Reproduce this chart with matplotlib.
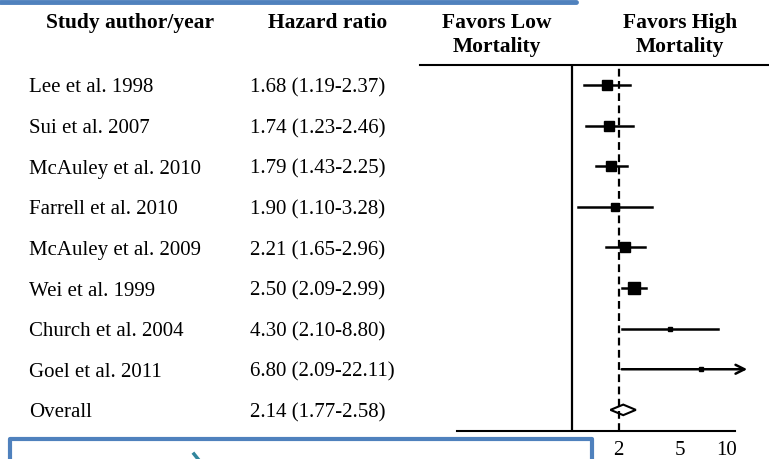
import numpy as np
import matplotlib.pyplot as plt
import matplotlib.transforms as mtransforms
from matplotlib.lines import Line2D
from matplotlib.patches import Polygon

# Données
etudes = ["Lee et al. 1998", "Sui et al. 2007", "McAuley et al. 2010", "Farrell et al. 2010",
          "McAuley et al. 2009", "Wei et al. 1999", "Church et al. 2004", "Goel et al. 2011"]
hr = [1.68, 1.74, 1.79, 1.90, 2.21, 2.50, 4.30, 6.80]
ic_bas = [1.19, 1.23, 1.43, 1.10, 1.65, 2.09, 2.10, 2.09]
ic_haut = [2.37, 2.46, 2.25, 3.28, 2.96, 2.99, 8.80, 22.11]
poids = [13.5, 13.0, 16.0, 7.5, 13.5, 19.0, 2.5, 3.0]  # poids relatifs (taille des carrés)
global_label = "Overall"
global_hr, global_bas, global_haut = 2.14, 1.77, 2.58
ticks = [2, 5, 10]

W, H = 769, 459
fig = plt.figure(figsize=(W / 100, H / 100), dpi=100)
plt.rcParams['font.family'] = ['Liberation Serif', 'DejaVu Serif']

# axe du forest plot (en pixels: x 420-769, y 65-431)
ax = fig.add_axes([420 / W, 1 - 431 / H, (W - 420) / W, (431 - 65) / H])
ax.set_xscale('log')
ax.set_xlim(0.1045, 18.66)
n = len(etudes)
ax.set_ylim(8.52, -0.49)

for s in ['left', 'right']:
    ax.spines[s].set_visible(False)
ax.spines['top'].set_linewidth(1.5)
ax.spines['bottom'].set_linewidth(1.5)
ax.spines['bottom'].set_bounds(0.181, 11.27)
ax.set_yticks([])
ax.set_xticks(ticks)
ax.set_xticklabels([str(t) for t in ticks], fontsize=15)
ax.minorticks_off()
ax.tick_params(axis='x', length=0, pad=7)

ax.axvline(1, color='black', lw=1.6)
ax.axvline(2, color='black', lw=1.6, ls=(0, (3.5, 2)))

x_max = 13.5  # limite visible de l'IC
for i in range(n):
    taille = 2.6 * np.sqrt(poids[i]) * 0.72
    if ic_haut[i] > x_max:
        ax.annotate('', xy=(x_max, i), xytext=(ic_bas[i], i),
                    arrowprops=dict(arrowstyle='->', lw=1.8, color='black', shrinkA=0, shrinkB=0,
                                    mutation_scale=16))
    else:
        ax.plot([ic_bas[i], ic_haut[i]], [i, i], color='black', lw=1.8)
    ax.plot(hr[i], i, marker='s', color='black', markersize=taille)

# losange global
yg = n
diamant = Polygon([[global_bas, yg], [global_hr, yg - 0.13], [global_haut, yg], [global_hr, yg + 0.13]],
                  closed=True, facecolor='white', edgecolor='black', lw=1.5)
ax.add_patch(diamant)

# textes (léger décalage vers le bas)
decal = mtransforms.ScaledTranslation(0, -3 / 100, fig.dpi_scale_trans)
trans = mtransforms.blended_transform_factory(fig.transFigure, ax.transData) + decal
for i, (nom, v, b, h) in enumerate(zip(etudes, hr, ic_bas, ic_haut)):
    ax.text(29 / W, i, nom, transform=trans, fontsize=15, va='center', ha='left')
    ax.text(250 / W, i, f"{v:.2f} ({b:.2f}-{h:.2f})", transform=trans, fontsize=15, va='center', ha='left')
ax.text(29 / W, yg, global_label, transform=trans, fontsize=15, va='center', ha='left')
ax.text(250 / W, yg, f"{global_hr:.2f} ({global_bas:.2f}-{global_haut:.2f})", transform=trans,
        fontsize=15, va='center', ha='left')

fig.text(130 / W, 1 - 23 / H, "Study author/year", fontsize=15.5, fontweight='bold', ha='center', va='center')
fig.text(328 / W, 1 - 23 / H, "Hazard ratio", fontsize=15.5, fontweight='bold', ha='center', va='center')
fig.text(497 / W, 1 - 35 / H, "Favors Low\nMortality", fontsize=15.5, fontweight='bold', ha='center',
         va='center', linespacing=1.25)
fig.text(680 / W, 1 - 35 / H, "Favors High\nMortality", fontsize=15.5, fontweight='bold', ha='center',
         va='center', linespacing=1.25)

# décorations bleues de la diapositive
bleu = '#4F81BD'
fig.add_artist(Line2D([0, 576 / W], [1 - 2 / H, 1 - 2 / H], color=bleu, lw=3.5,
                      solid_capstyle='round', transform=fig.transFigure))
fig.add_artist(Line2D([10 / W, 10 / W, 592 / W, 592 / W], [-0.02, 1 - 439 / H, 1 - 439 / H, -0.02],
                      color=bleu, lw=3, solid_joinstyle='round', transform=fig.transFigure))
fig.add_artist(Line2D([194 / W, 198 / W], [1 - 454 / H, 1 - 459 / H], color='#31859C', lw=2.5,
                      transform=fig.transFigure))

fig.savefig('out.png', dpi=100)
